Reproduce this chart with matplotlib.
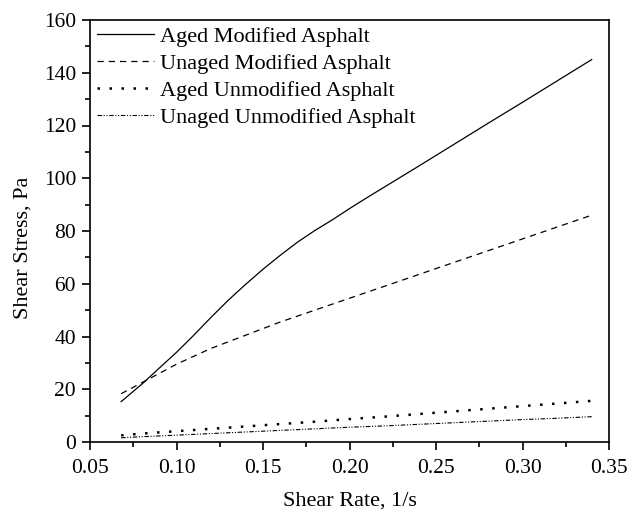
import matplotlib
matplotlib.use("Agg")
import matplotlib.pyplot as plt
from matplotlib.ticker import MultipleLocator, FormatStrFormatter

plt.rcParams['font.family'] = ['Liberation Serif', 'DejaVu Serif']

x_am = [0.068, 0.0806, 0.09, 0.10, 0.11, 0.12, 0.13, 0.14, 0.15, 0.16, 0.17, 0.18, 0.19,
        0.20, 0.21, 0.22, 0.24, 0.26, 0.28, 0.30, 0.32, 0.34]
y_aged_mod = [15.3, 22.3, 28, 34, 40.5, 47.3, 53.8, 59.8, 65.5, 70.8, 75.8, 80.2, 84.2,
              88.5, 92.6, 96.6, 104.6, 112.7, 120.8, 128.8, 136.9, 145]

x_lin = [0.068, 0.08, 0.10, 0.12, 0.14, 0.16, 0.18, 0.20, 0.22, 0.24, 0.26, 0.28, 0.30, 0.32, 0.34]
y_unaged_mod = [18.3, 22.5, 29.5, 35.5, 40.5, 45.5, 50, 54.5, 59, 63.5, 68, 72.5, 77, 81.5, 86]
y_aged_unmod = [2.5, 3.2, 4.1, 5.0, 5.9, 6.8, 7.7, 8.7, 9.6, 10.6, 11.6, 12.6, 13.6, 14.6, 15.6]
y_unaged_unmod = [1.6, 2.0, 2.6, 3.2, 3.8, 4.4, 5.0, 5.6, 6.1, 6.7, 7.3, 7.9, 8.5, 9.0, 9.6]

labels = ["Aged Modified Asphalt", "Unaged Modified Asphalt",
          "Aged Unmodified Asphalt", "Unaged Unmodified Asphalt"]

fig = plt.figure(figsize=(6.31, 5.15), dpi=100)
ax = fig.add_axes([90/631, 1-442/515, (609-90)/631, (442-20)/515])

ax.plot(x_am, y_aged_mod, color='black', lw=0.9, label=labels[0])
ax.plot(x_lin, y_unaged_mod, color='black', lw=0.9, linestyle=(0, (5, 4)), label=labels[1])
ax.plot(x_lin, y_aged_unmod, color='black', lw=1.8, linestyle=(0, (1, 3.8)), label=labels[2])
ax.plot(x_lin, y_unaged_unmod, color='black', lw=0.8, linestyle=(0, (4, 1.5, 1, 1.5, 1, 1.5)), label=labels[3])

ax.set_xlim(0.05, 0.35)
ax.set_ylim(0, 160)
ax.xaxis.set_major_locator(MultipleLocator(0.05))
ax.xaxis.set_minor_locator(MultipleLocator(0.025))
ax.yaxis.set_major_locator(MultipleLocator(20))
ax.yaxis.set_minor_locator(MultipleLocator(10))
ax.xaxis.set_major_formatter(FormatStrFormatter('%.2f'))
ax.tick_params(which='major', direction='out', length=6, width=1.2, labelsize=15.5, pad=4)
ax.tick_params(axis='x', which='major', pad=6)
ax.tick_params(which='minor', direction='out', length=3.5, width=1.2)
for s in ax.spines.values():
    s.set_linewidth(1.2)

ax.set_xlabel("Shear Rate, 1/s", fontsize=16)
ax.set_ylabel("Shear Stress, Pa", fontsize=16)
ax.xaxis.set_label_coords(0.5, -0.118)
ax.yaxis.set_label_coords(-0.11, 0.46)

ax.legend(loc='upper left', frameon=False, fontsize=16, handlelength=2.6,
          handletextpad=0.27, labelspacing=0.29, borderaxespad=0.0, borderpad=0.3,
          bbox_to_anchor=(0.0, 1.0))

fig.savefig("out.png", dpi=100)
